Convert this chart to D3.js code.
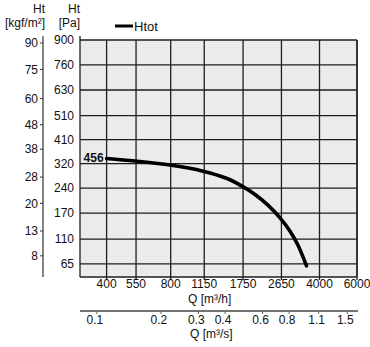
<!DOCTYPE html>
<html>
<head>
<meta charset="utf-8">
<script src="https://cdn.jsdelivr.net/npm/d3@7"></script>
<style>
  html, body { margin: 0; padding: 0; background: #fff; }
  svg { display: block; font-family: "Liberation Sans", Arial, Helvetica, sans-serif; }
</style>
</head>
<body>
<svg id="chart" width="370" height="347"></svg>
<script>
// Fan characteristic: total pressure vs. airflow
const flowTicksH = [400, 550, 800, 1150, 1750, 2650, 4000, 6000];      // Q [m³/h]
const flowTicksS = [0.1, 0.2, 0.3, 0.4, 0.6, 0.8, 1.1, 1.5];           // Q [m³/s]
const pressureTicksPa = [900, 760, 630, 510, 410, 320, 240, 170, 110, 65]; // Ht [Pa]
const pressureTicksKgf = [90, 75, 60, 48, 38, 28, 20, 13, 8];          // Ht [kgf/m²]

// Htot curve (Q in m³/h, Ht in Pa)
const curveQ = [400, 544, 794, 1135, 1471, 1730, 1991, 2291, 2610, 2908, 3170, 3476];
const curveH = [338, 329, 315, 294, 270, 246, 221, 191, 158, 127, 98, 62];
const curveLabel = "456";
const seriesName = "Htot";

const KGF_TO_PA = 9.80665;

const svg = d3.select("#chart");
const pLeft = 80, pRight = 357, pTop = 40, pBottom = 277;

const x = d3.scaleLog().domain([300, 6000]).range([pLeft, pRight]);
const y = d3.scaleSqrt().domain([46, 900]).range([pBottom, pTop]);

// plot background
svg.append("rect")
  .attr("x", pLeft).attr("y", pTop)
  .attr("width", pRight - pLeft).attr("height", pBottom - pTop)
  .attr("fill", "#ebebeb");

// grid
const grid = svg.append("g").attr("stroke", "#1e1e1e").attr("stroke-width", 1.3);
grid.selectAll("line.v").data(flowTicksH).join("line")
  .attr("x1", d => x(d)).attr("x2", d => x(d))
  .attr("y1", pTop).attr("y2", pBottom + 3);
grid.selectAll("line.h").data(pressureTicksPa).join("line")
  .attr("x1", pLeft).attr("x2", pRight)
  .attr("y1", d => y(d)).attr("y2", d => y(d));

// frame
svg.append("line").attr("x1", pLeft).attr("x2", pLeft).attr("y1", pTop - 4).attr("y2", pBottom)
  .attr("stroke", "#1e1e1e").attr("stroke-width", 1.3);
svg.append("line").attr("x1", pLeft).attr("x2", pRight).attr("y1", pBottom).attr("y2", pBottom)
  .attr("stroke", "#1e1e1e").attr("stroke-width", 1.3);
svg.append("line").attr("x1", pRight).attr("x2", pRight).attr("y1", pTop).attr("y2", pBottom)
  .attr("stroke", "#1e1e1e").attr("stroke-width", 1.3);

// Pa tick labels
svg.append("g").selectAll("text").data(pressureTicksPa).join("text")
  .attr("x", pLeft - 6).attr("y", d => y(d)).attr("dy", "0.36em")
  .attr("text-anchor", "end").attr("font-size", 12).attr("fill", "#111")
  .text(d => d);

// kgf/m² axis
const kx = 43;
const kgf = svg.append("g");
kgf.append("line").attr("x1", kx).attr("x2", kx).attr("y1", pTop - 4).attr("y2", pBottom)
  .attr("stroke", "#333").attr("stroke-width", 1.2);
kgf.selectAll("line.t").data(pressureTicksKgf).join("line")
  .attr("x1", kx - 3).attr("x2", kx)
  .attr("y1", d => y(d * KGF_TO_PA)).attr("y2", d => y(d * KGF_TO_PA))
  .attr("stroke", "#333").attr("stroke-width", 1);
kgf.selectAll("text").data(pressureTicksKgf).join("text")
  .attr("x", kx - 5).attr("y", d => y(d * KGF_TO_PA)).attr("dy", "0.36em")
  .attr("text-anchor", "end").attr("font-size", 12).attr("fill", "#111")
  .text(d => d);

// axis titles (left)
const titles = [
  { x: 45, y: 13, t: "Ht" }, { x: 45, y: 27, t: "[kgf/m²]" },
  { x: 80, y: 13, t: "Ht" }, { x: 80, y: 27, t: "[Pa]" }
];
svg.append("g").selectAll("text").data(titles).join("text")
  .attr("x", d => d.x).attr("y", d => d.y)
  .attr("text-anchor", "end").attr("font-size", 12).attr("fill", "#111")
  .text(d => d.t);

// m³/h tick labels
svg.append("g").selectAll("text").data(flowTicksH).join("text")
  .attr("x", d => x(d)).attr("y", 288)
  .attr("text-anchor", "middle").attr("font-size", 12).attr("fill", "#111")
  .text(d => d);
svg.append("text").attr("x", 188).attr("y", 303)
  .attr("font-size", 12).attr("fill", "#111").text("Q [m³/h]");

// m³/s axis
const sy = 311;
const xs = v => x(v * 3600);
svg.append("line").attr("x1", pLeft).attr("x2", pRight + 1).attr("y1", sy).attr("y2", sy)
  .attr("stroke", "#444").attr("stroke-width", 1.3);
svg.append("g").selectAll("line").data(flowTicksS).join("line")
  .attr("x1", d => xs(d)).attr("x2", d => xs(d)).attr("y1", sy).attr("y2", sy + 3)
  .attr("stroke", "#666").attr("stroke-width", 1);
svg.append("g").selectAll("text").data(flowTicksS).join("text")
  .attr("x", d => xs(d) - 2).attr("y", 324)
  .attr("text-anchor", "middle").attr("font-size", 12).attr("fill", "#111")
  .text(d => d);
svg.append("text").attr("x", 190).attr("y", 338)
  .attr("font-size", 12).attr("fill", "#111").text("Q [m³/s]");

// Htot curve
const pts = curveQ.map((q, i) => [q, curveH[i]]);
svg.append("path").datum(pts)
  .attr("fill", "none").attr("stroke", "#000").attr("stroke-width", 3.6)
  .attr("stroke-linecap", "round")
  .attr("d", d3.line().x(d => x(d[0])).y(d => y(d[1])).curve(d3.curveCatmullRom.alpha(0.5)));

svg.append("text")
  .attr("x", x(curveQ[0]) - 3).attr("y", y(curveH[0])).attr("dy", "0.3em")
  .attr("text-anchor", "end").attr("font-size", 12).attr("font-weight", "bold").attr("fill", "#111")
  .text(curveLabel);

// legend
svg.append("line").attr("x1", 115).attr("x2", 133).attr("y1", 26).attr("y2", 26)
  .attr("stroke", "#000").attr("stroke-width", 3);
svg.append("text").attr("x", 134).attr("y", 31)
  .attr("font-size", 13).attr("fill", "#111").text(seriesName);
</script>
</body>
</html>
